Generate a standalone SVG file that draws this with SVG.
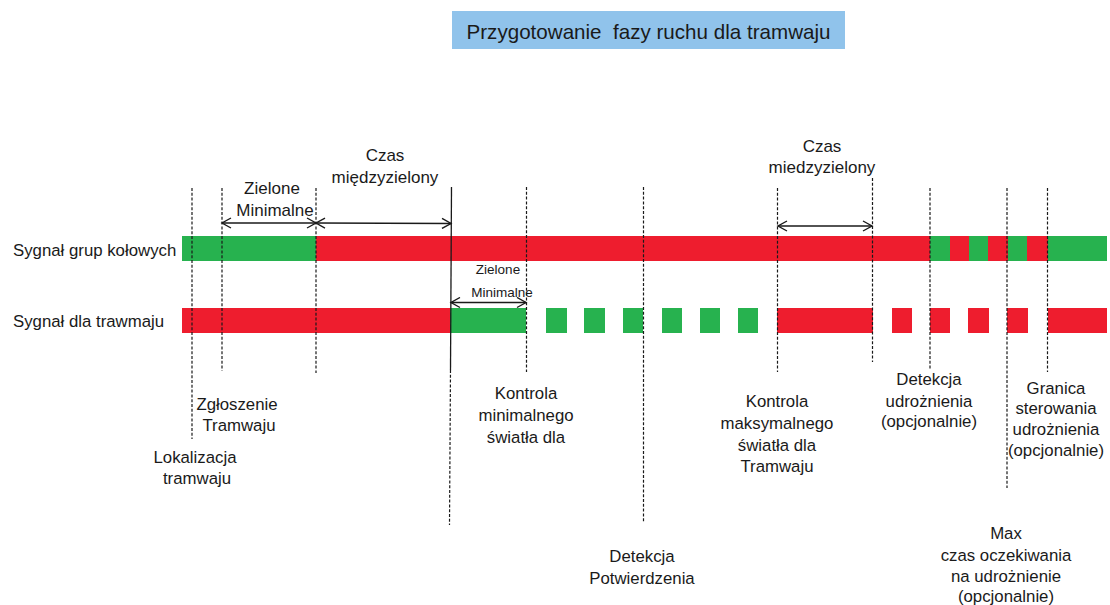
<svg xmlns="http://www.w3.org/2000/svg" width="1110" height="605" viewBox="0 0 1110 605">
<defs>
<style>
text{font-family:"Liberation Sans",Arial,sans-serif;fill:#1a1a1a;font-size:16.8px;text-anchor:middle}
.st{text-anchor:start}
.sm{font-size:13.5px}
.tl{font-size:17px}
.g{fill:#27b24f}
.r{fill:#ee1d2e}
.d{stroke:#1a1a1a;stroke-width:1.2;stroke-dasharray:3 1.8;fill:none}
.s{stroke:#1a1a1a;stroke-width:1.3;fill:none}
.a{stroke:#1a1a1a;stroke-width:1.4;fill:none;marker-start:url(#ah);marker-end:url(#ah)}
</style>
<marker id="ah" viewBox="-10 -6 12 12" markerWidth="12" markerHeight="12" refX="0" refY="0" orient="auto-start-reverse" markerUnits="userSpaceOnUse">
<path d="M-9,-5 L0,0 L-9,5" fill="none" stroke="#1a1a1a" stroke-width="1.4"/>
</marker>
</defs>
<rect width="1110" height="605" fill="#ffffff"/>
<g id="title">
<rect x="452" y="11" width="393" height="38" fill="#90c3eb"/>
<text x="648.5" y="39" style="font-size:20.6px" xml:space="preserve">Przygotowanie  fazy ruchu dla tramwaju</text>
</g>
<g id="bar-grup-kolowych">
<rect class="g" x="182" y="236" width="134" height="25"/>
<rect class="r" x="316" y="236" width="614" height="25"/>
<rect class="g" x="930" y="236" width="20" height="25"/>
<rect class="r" x="950" y="236" width="19" height="25"/>
<rect class="g" x="969" y="236" width="19" height="25"/>
<rect class="r" x="988" y="236" width="20" height="25"/>
<rect class="g" x="1008" y="236" width="19" height="25"/>
<rect class="r" x="1027" y="236" width="21" height="25"/>
<rect class="g" x="1048" y="236" width="59" height="25"/>
</g>
<g id="bar-tramwaj">
<rect class="r" x="182" y="308" width="268" height="25"/>
<rect class="g" x="450" y="308" width="76" height="25"/>
<rect class="g" x="546" y="308" width="21" height="25"/>
<rect class="g" x="584" y="308" width="21" height="25"/>
<rect class="g" x="623" y="308" width="20" height="25"/>
<rect class="g" x="662" y="308" width="20" height="25"/>
<rect class="g" x="700" y="308" width="20" height="25"/>
<rect class="g" x="738" y="308" width="20" height="25"/>
<rect class="r" x="777" y="308" width="96" height="25"/>
<rect class="r" x="892" y="308" width="20" height="25"/>
<rect class="r" x="930" y="308" width="20" height="25"/>
<rect class="r" x="968" y="308" width="21" height="25"/>
<rect class="r" x="1007" y="308" width="21" height="25"/>
<rect class="r" x="1048" y="308" width="59" height="25"/>
</g>
<g id="connectors">
<line class="d" x1="192" y1="188" x2="192" y2="439"/>
<line class="d" x1="222" y1="188" x2="222" y2="371"/>
<line class="d" x1="316" y1="188" x2="316" y2="373"/>
<line class="s" x1="451.5" y1="187" x2="450.5" y2="370"/>
<line class="d" x1="450.5" y1="370" x2="449.5" y2="525"/>
<line class="d" x1="526.5" y1="187" x2="526.5" y2="372"/>
<line class="d" x1="643.5" y1="187" x2="643.5" y2="523"/>
<line class="d" x1="777.5" y1="188" x2="777.5" y2="372"/>
<line class="d" x1="872.5" y1="178" x2="872.5" y2="362"/>
<line class="d" x1="930" y1="188" x2="930" y2="370"/>
<line class="d" x1="1007" y1="188" x2="1007" y2="488"/>
<line class="d" x1="1047.5" y1="188" x2="1047.5" y2="372"/>
<line class="a" x1="222" y1="223" x2="316" y2="223"/>
<line class="a" x1="316" y1="223" x2="451" y2="223.5"/>
<line class="a" x1="778" y1="226" x2="872" y2="226"/>
<line class="a" x1="451" y1="302.5" x2="526" y2="302.5"/>
</g>
<g id="row-labels">
<text class="st" x="13" y="255.5">Sygnał grup kołowych</text>
<text class="st" x="13" y="327">Sygnał dla trawmaju</text>
</g>
<g id="label-zielone-minimalne">
<text class="tl" x="272" y="193.5">Zielone</text>
<text class="tl" x="275" y="216">Minimalne</text>
</g>
<g id="label-czas-1">
<text class="tl" x="385" y="161">Czas</text>
<text class="tl" x="385" y="182.5">międzyzielony</text>
</g>
<g id="label-czas-2">
<text class="tl" x="822" y="152">Czas</text>
<text class="tl" x="822" y="172.5">miedzyzielony</text>
</g>
<g id="label-zielone-minimalne-2">
<text class="sm" x="498" y="273.5">Zielone</text>
<text class="sm" x="502" y="296.5">Minimalne</text>
</g>
<g id="label-zgloszenie">
<text x="237" y="409.5">Zgłoszenie</text>
<text x="239" y="430.5">Tramwaju</text>
</g>
<g id="label-lokalizacja">
<text x="195" y="463">Lokalizacja</text>
<text x="197" y="483.5">tramwaju</text>
</g>
<g id="label-kontrola-min">
<text x="526" y="398.5">Kontrola</text>
<text x="526" y="421">minimalnego</text>
<text x="526" y="442.5">światła dla</text>
</g>
<g id="label-detekcja-potw">
<text x="642" y="562">Detekcja</text>
<text x="642" y="583.5">Potwierdzenia</text>
</g>
<g id="label-kontrola-max">
<text x="777" y="407">Kontrola</text>
<text x="777" y="428.5">maksymalnego</text>
<text x="777" y="450.5">światła dla</text>
<text x="777" y="472">Tramwaju</text>
</g>
<g id="label-detekcja-udr">
<text x="929" y="385">Detekcja</text>
<text x="929" y="407">udrożnienia</text>
<text x="929" y="427">(opcjonalnie)</text>
</g>
<g id="label-granica">
<text x="1056" y="394">Granica</text>
<text x="1056" y="414">sterowania</text>
<text x="1056" y="435">udrożnienia</text>
<text x="1056" y="455.5">(opcjonalnie)</text>
</g>
<g id="label-max">
<text x="1006" y="539">Max</text>
<text x="1006" y="560.5">czas oczekiwania</text>
<text x="1006" y="582">na udrożnienie</text>
<text x="1006" y="602">(opcjonalnie)</text>
</g>
</svg>
